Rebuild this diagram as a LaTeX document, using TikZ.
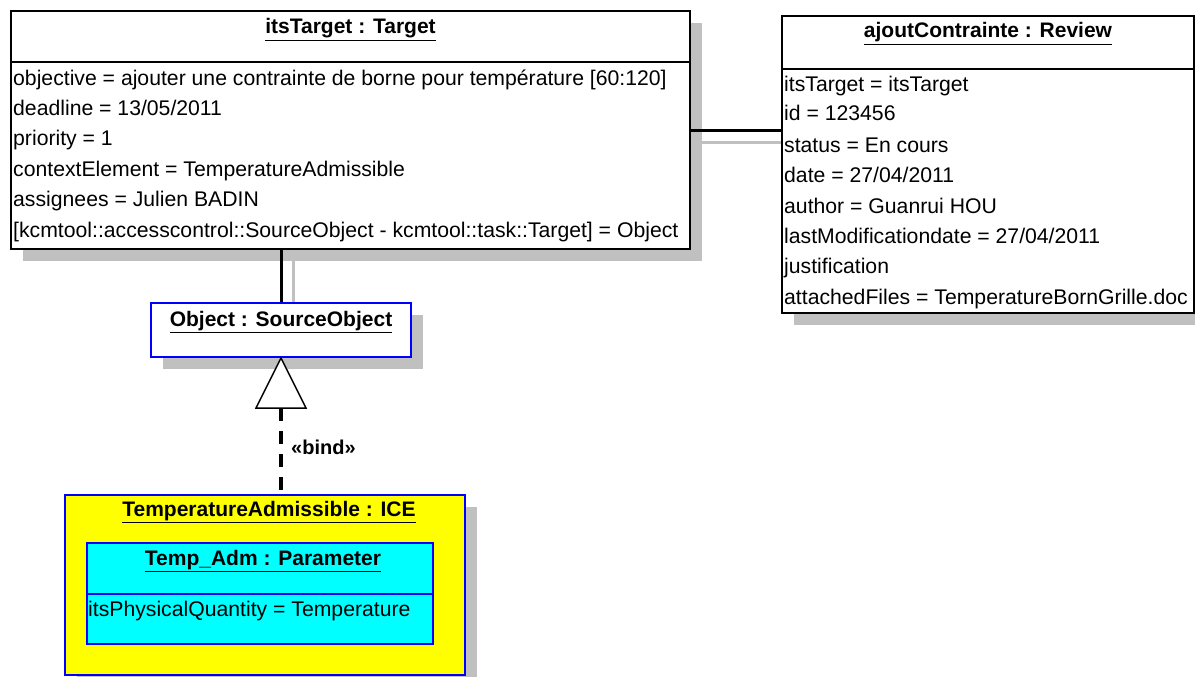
\documentclass[tikz,border=0pt]{standalone}
\usepackage{fontspec}
\setmainfont{Liberation Sans}
\usetikzlibrary{shadows,calc}
\definecolor{shgray}{HTML}{C0C0C0}
\definecolor{ublue}{HTML}{0000FF}
\definecolor{uyellow}{HTML}{FFFF00}
\definecolor{ucyan}{HTML}{00FFFF}
\tikzset{
  umlbox/.style={draw=black, line width=2pt, fill=white, inner sep=0pt, anchor=north west},
  shad/.style={drop shadow={shadow xshift=12pt, shadow yshift=-12pt, fill=shgray, opacity=1}},
  attr/.style={anchor=base west, inner sep=0pt, font=\fontsize{21.2}{25}\selectfont},
  ttl/.style={anchor=base, inner sep=0pt, font=\fontsize{21}{25}\selectfont\bfseries},
  conn/.style={draw=black, line width=3pt},
  shline/.style={draw=shgray, line width=3pt},
  bindline/.style={draw=black, line width=3.5pt, dash pattern=on 13pt off 10pt},
}
\begin{document}
\begin{tikzpicture}[x=1pt,y=-1pt]
\useasboundingbox (0,0) rectangle (1195,677);
% boxes
\node[umlbox, shad, minimum width=679pt, minimum height=238pt] (tgt) at (10,10) {};
\node[umlbox, shad, minimum width=412pt, minimum height=297pt] (rev) at (781,15) {};
\draw[shline] ($(tgt.east)+(10,12)$) -- ($(tgt.east -| rev.west)+(0,12)$);
\node[umlbox, shad, draw=ublue, minimum width=260pt, minimum height=54pt] (obj) at (150,302) {};
\draw[shline] ($(obj.north)+(12,0)$) -- ($(obj.north |- tgt.south)+(12,10)$);
\node[umlbox, shad, draw=ublue, fill=uyellow, minimum width=400pt, minimum height=180pt] (ice) at (64,494) {};
\node[umlbox, draw=ublue, fill=ucyan, minimum width=346pt, minimum height=101pt] (par) at (86,542) {};
% header separators
\draw[line width=2pt] ([yshift=-52pt]tgt.north west) -- ([yshift=-52pt]tgt.north east);
\draw[line width=2pt] ([yshift=-54pt]rev.north west) -- ([yshift=-54pt]rev.north east);
\draw[line width=2pt, ublue] ([yshift=-52pt]par.north west) -- ([yshift=-52pt]par.north east);
% titles
\node[ttl] (tgtT) at ([yshift=-24pt]tgt.north) {\underline{itsTarget : Target}};
\node[ttl] (revT) at ([yshift=-23pt]rev.north) {\underline{ajoutContrainte : Review}};
\node[ttl] (objT) at ([yshift=-24pt]obj.north) {\underline{Object : SourceObject}};
\node[ttl] (iceT) at ([xshift=4pt,yshift=-22pt]ice.north) {\underline{TemperatureAdmissible : ICE}};
\node[ttl] (parT) at ([xshift=3pt,yshift=-23pt]par.north) {\underline{Temp\_Adm : Parameter}};
% Target attributes
\node[attr] (t1) at (13,85) {objective = ajouter une contrainte de borne pour température [60:120]};
\node[attr] (t2) at (13,115) {deadline = 13/05/2011};
\node[attr] (t3) at (13,145) {priority = 1};
\node[attr] (t4) at (13,176) {contextElement = TemperatureAdmissible};
\node[attr] (t5) at (13,206) {assignees = Julien BADIN};
\node[attr] (t6) at (13,237) {[kcmtool::accesscontrol::SourceObject - kcmtool::task::Target] = Object};
% Review attributes
\node[attr] (r1) at (784,92) {itsTarget = itsTarget};
\node[attr] (r2) at (784,121) {id = 123456};
\node[attr] (r3) at (784,152) {status = En cours};
\node[attr] (r4) at (784,182) {date = 27/04/2011};
\node[attr] (r5) at (784,213) {author = Guanrui HOU};
\node[attr] (r6) at (784,243) {lastModificationdate = 27/04/2011};
\node[attr] (r7) at (784,273) {justification};
\node[attr] (r8) at (784,304) {attachedFiles = TemperatureBornGrille.doc};
% Parameter attribute
\node[attr] (p1) at (88,616) {itsPhysicalQuantity = Temperature};
% connectors
\draw[conn] (tgt.east) -- (tgt.east -| rev.west);
\draw[conn] (obj.north) -- (obj.north |- tgt.south);
\coordinate (tb) at ($(obj.south)+(0,50)$);
\draw[bindline] (tb) -- (tb |- ice.north);
\draw[line width=1.5pt, fill=white] (obj.south) -- ($(tb)+(-25,0)$) -- ($(tb)+(25,0)$) -- cycle;
\node[anchor=west, inner sep=0pt, font=\fontsize{20}{24}\selectfont\bfseries] (bind) at (291,447) {«bind»};
\end{tikzpicture}
\end{document}
